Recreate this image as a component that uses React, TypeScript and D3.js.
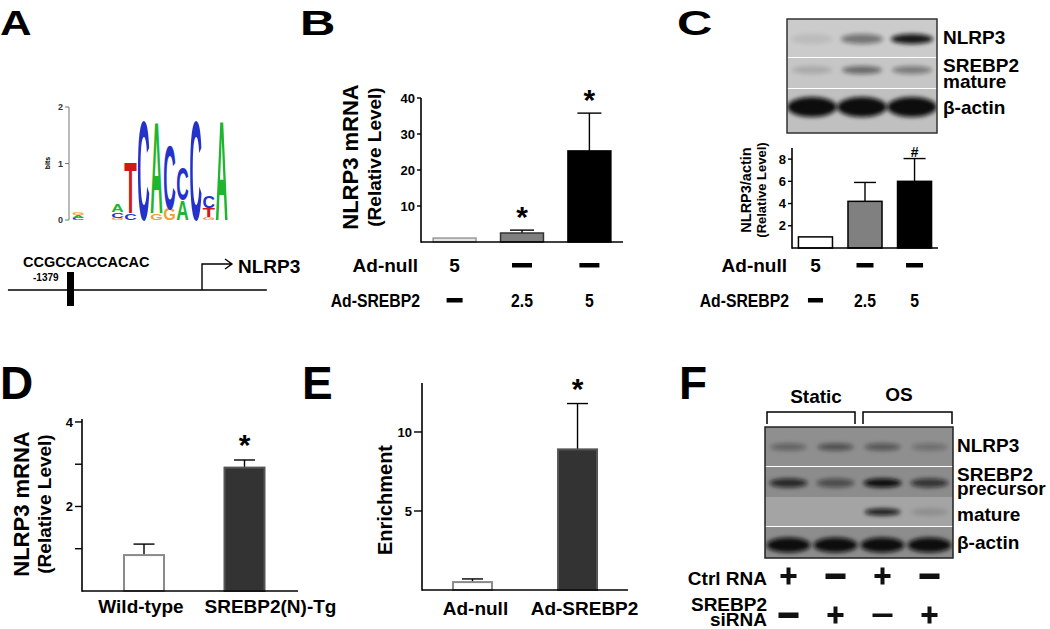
import React from "react";
import * as d3 from "d3";

const FONT = "'Liberation Sans', Arial, Helvetica, sans-serif";

// ---- Panel A: motif logo, each column stacked bottom -> top [letter, bits]
const logoColumns: [string, number][][] = [
  [["C", 0.04], ["A", 0.04], ["G", 0.05]],
  [],
  [],
  [["G", 0.04], ["C", 0.1], ["A", 0.14]],
  [["C", 0.12], ["T", 0.92]],
  [["C", 1.8]],
  [["G", 0.12], ["A", 1.65]],
  [["G", 0.2], ["C", 1.15]],
  [["A", 0.35], ["C", 0.58]],
  [["C", 1.8]],
  [["G", 0.05], ["T", 0.16], ["C", 0.2]],
  [["A", 1.8]],
];
const logoTicks = [0, 1, 2];
const promoterSeq = "CCGCCACCACAC";
const sitePosition = -1379;
const regionStart = -2035;
const regionEnd = 680;

// ---- Panel B: NLRP3 mRNA
const bGroups = ["null-5", "srebp-2.5", "srebp-5"];
const bMeans = [1.1, 2.5, 25.3];
const bUpper = [1.1, 3.3, 35.8];
const bSig = ["", "*", "*"];
const bTicks = [10, 20, 30, 40];
const bAdNull = ["5", "-", "-"];
const bAdSrebp2 = ["-", "2.5", "5"];

// ---- Panel C: western blot + NLRP3/actin
const cGroups = ["null-5", "srebp-2.5", "srebp-5"];
const cMeans = [1.0, 4.2, 6.0];
const cUpper = [1.0, 5.9, 8.05];
const cSig = ["", "", "#"];
const cTicks = [2, 4, 6, 8];
const cAdNull = ["5", "-", "-"];
const cAdSrebp2 = ["-", "2.5", "5"];
const cBlotNlrp3 = [0.08, 0.45, 0.95];
const cBlotSrebp2 = [0.15, 0.5, 0.4];
const cBlotActin = [1, 1, 1];

// ---- Panel D: transgenic mice
const dGroups = ["Wild-type", "SREBP2(N)-Tg"];
const dMeans = [0.85, 2.92];
const dUpper = [1.11, 3.1];
const dSig = ["", "*"];
const dTicks = [1, 2, 3, 4];
const dTickLabels = ["", "2", "", "4"];

// ---- Panel E: ChIP enrichment
const eGroups = ["Ad-null", "Ad-SREBP2"];
const eMeans = [0.5, 8.9];
const eUpper = [0.7, 11.8];
const eSig = ["", "*"];
const eTicks = [5, 10];

// ---- Panel F: blot under static / OS
const fLanes = ["s1", "s2", "o1", "o2"];
const fBlotNlrp3 = [0.35, 0.5, 0.45, 0.25];
const fBlotPrecursor = [0.8, 0.5, 1.0, 0.7];
const fBlotMature = [0, 0, 0.9, 0.15];
const fBlotActin = [1, 1, 1, 1];
const fCtrlRna = ["+", "-", "+", "-"];
const fSirna = ["-", "+", "-", "+"];

const letterColor: Record<string, string> = { A: "#20b52e", C: "#2432c9", G: "#f2a035", T: "#cf1a1a" };
const letterAdv: Record<string, number> = { A: 0.722, C: 0.722, G: 0.778, T: 0.611 };

const PanelLetter = ({ t, x, y, size, sx }: any) => (
  <text transform={`translate(${x},${y}) scale(${sx},1)`} fontSize={size} fontWeight="bold">{t}</text>
);

const YLabel = ({ x, y, size, t }: any) => (
  <text transform={`translate(${x},${y}) rotate(-90)`} textAnchor="middle" fontSize={size} fontWeight="bold">{t}</text>
);

const Bars = ({ xs, ys, keys, means, upper, fills, strokes, sw, capW, sig, sigSize, sigOff }: any) => (
  <g>
    {keys.map((k: string, i: number) => {
      const x0 = xs(k), bw = xs.bandwidth(), cx = x0 + bw / 2;
      return (
        <g key={k}>
          {upper[i] > means[i] && (
            <g stroke="#000" strokeWidth={1.4}>
              <line x1={cx} x2={cx} y1={ys(means[i])} y2={ys(upper[i])} />
              <line x1={cx - capW / 2} x2={cx + capW / 2} y1={ys(upper[i])} y2={ys(upper[i])} />
            </g>
          )}
          <rect x={x0} y={ys(means[i])} width={bw} height={ys(0) - ys(means[i])} fill={fills[i]} stroke={strokes[i]} strokeWidth={sw} />
          {sig[i] && (
            <text x={cx} y={ys(upper[i]) + sigOff} textAnchor="middle" fontSize={sigSize} fontWeight="bold">{sig[i]}</text>
          )}
        </g>
      );
    })}
  </g>
);

const Axes = ({ xs, ys, x1, ticks, labels, tickLen, fs }: any) => {
  const [r0] = xs.range();
  const [d0, d1] = ys.domain();
  return (
    <g>
      <line x1={r0} x2={x1} y1={ys(d0)} y2={ys(d0)} stroke="#000" strokeWidth={1.6} />
      <line x1={r0} x2={r0} y1={ys(d0) + 0.8} y2={ys(d1)} stroke="#000" strokeWidth={1.6} />
      {ticks.map((t: number, i: number) => (
        <g key={t}>
          <line x1={r0 - tickLen} x2={r0} y1={ys(t)} y2={ys(t)} stroke="#000" strokeWidth={1.4} />
          <text x={r0 - tickLen - 2} y={ys(t)} dy="0.36em" textAnchor="end" fontSize={fs} fontWeight="bold">
            {labels ? labels[i] : t}
          </text>
        </g>
      ))}
    </g>
  );
};

// one condition row under a bar chart; sx < 1 squeezes the text like the narrow font of the original
const Row = ({ label, lx, y, xs, keys, vals, dashW, fs, sx = 1 }: any) => (
  <g fontSize={fs} fontWeight="bold">
    <text transform={`translate(${lx},${y}) scale(${sx},1)`} textAnchor="end">{label}</text>
    {keys.map((k: string, i: number) => {
      const cx = xs(k) + xs.bandwidth() / 2;
      return vals[i] === "-" ? (
        <rect key={k} x={cx - dashW / 2} y={y - 9} width={dashW} height={4.5} fill="#000" />
      ) : (
        <text key={k} transform={`translate(${cx},${y}) scale(${sx},1)`} textAnchor="middle">{vals[i]}</text>
      );
    })}
  </g>
);

const Sign = ({ cx, cy, s, thin }: any) =>
  s === "+" ? (
    <g fill="#111">
      <rect x={cx - 8} y={cy - 2} width={16} height={4} />
      <rect x={cx - 2} y={cy - 8.5} width={4} height={17} />
    </g>
  ) : (
    <rect x={cx - 10} y={cy - (thin ? 1.5 : 2.5)} width={20} height={thin ? 3.5 : 5.5} fill="#111" />
  );

const Blot = ({ x, y, w, lanes, strips, border }: any) => {
  const ls = d3.scaleBand().domain(lanes).range([x, x + w]);
  let yy = y;
  const items = strips.map((s: any, si: number) => {
    const top = yy;
    yy += s.h;
    return (
      <g key={si}>
        <rect x={x} y={top} width={w} height={s.h} fill={s.bg} />
        {lanes.map((l: string, i: number) =>
          s.bands[i] > 0 ? (
            <ellipse key={l} cx={(ls(l) as number) + ls.bandwidth() / 2} cy={top + s.cy} rx={s.rx} ry={s.ry}
              fill="#0b0b0b" opacity={s.bands[i]} filter="url(#blur)" />
          ) : null
        )}
        {s.sep && <line x1={x} x2={x + w} y1={top + s.h} y2={top + s.h} stroke="#fff" strokeWidth={2} />}
      </g>
    );
  });
  return (
    <g>
      <clipPath id={`clip${x}`}><rect x={x} y={y} width={w} height={yy - y} /></clipPath>
      <g clipPath={`url(#clip${x})`}>{items}</g>
      <rect x={x} y={y} width={w} height={yy - y} fill="none" stroke={border} strokeWidth={1.5} />
    </g>
  );
};

export default function App() {
  // Panel A scales
  const logoX = d3.scaleBand<number>().domain(d3.range(logoColumns.length)).range([72, 228]).paddingInner(0.04);
  const logoY = d3.scaleLinear().domain([0, 2]).range([220, 107]);
  const gene = d3.scaleLinear().domain([sitePosition, 0]).range([70.5, 202]);

  // Panel B scales
  const bx = d3.scaleBand().domain(bGroups).range([421, 623]).paddingInner(0.363).paddingOuter(0.18);
  const by = d3.scaleLinear().domain([0, 40]).range([242, 98]);

  // Panel C scales
  const cx = d3.scaleBand().domain(cGroups).range([792, 938]).paddingInner(0.313).paddingOuter(0.13);
  const cy = d3.scaleLinear().domain([0, 9]).range([248, 148]);

  // Panel D scales
  const dx = d3.scaleBand().domain(dGroups).range([82, 306.5]).paddingInner(0.602).paddingOuter(0.418);
  const dy = d3.scaleLinear().domain([0, 4.07]).range([591, 419]);

  // Panel E scales
  const ex = d3.scaleBand().domain(eGroups).range([422, 628]).paddingInner(0.629).paddingOuter(0.295);
  const ey = d3.scaleLinear().domain([0, 13.1]).range([590, 383]);

  const fLane = d3.scaleBand().domain(fLanes).range([765, 953]);

  return (
    <svg width={1050} height={629} style={{ position: "absolute", left: 0, top: 0, background: "#fff" }} fontFamily={FONT}>
      <defs>
        <filter id="blur" x="-50%" y="-100%" width="200%" height="300%">
          <feGaussianBlur stdDeviation="2.2" />
        </filter>
      </defs>

      {/* ---------- A ---------- */}
      <PanelLetter t="A" x={0} y={35} size={35} sx={1.25} />
      <g>
        <line x1={69} x2={69} y1={logoY(2)} y2={logoY(0)} stroke="#777" strokeWidth={1} />
        {logoTicks.map((t) => (
          <g key={t}>
            <line x1={65} x2={69} y1={logoY(t)} y2={logoY(t)} stroke="#777" strokeWidth={1} />
            <text x={63} y={logoY(t)} dy="0.35em" textAnchor="end" fontSize={9} fontWeight="bold" fill="#333">{t}</text>
          </g>
        ))}
        <YLabel x={50} y={163} size={7} t="bits" />
        {logoColumns.map((col, ci) => {
          let acc = 0;
          const x0 = logoX(ci) as number;
          const w = logoX.bandwidth();
          return col.map(([L, bits], li) => {
            const yb = logoY(acc);
            acc += bits;
            const h = yb - logoY(acc);
            const sx = w / (letterAdv[L] * 100);
            const sy = h / 72;
            return (
              <text key={`${ci}-${li}`} transform={`translate(${x0},${yb}) scale(${sx},${sy})`} fontSize={100}
                fontWeight="bold" fill={letterColor[L]}>{L}</text>
            );
          });
        })}
        <line x1={gene(regionStart)} x2={gene(regionEnd)} y1={290} y2={290} stroke="#000" strokeWidth={1.5} />
        <rect x={gene(sitePosition) - 3.5} y={272} width={7} height={34} fill="#000" />
        <path d={`M${gene(0)},290 V264 H${gene(0) + 29} M${gene(0) + 23},259 L${gene(0) + 30},264 L${gene(0) + 23},269`}
          fill="none" stroke="#000" strokeWidth={1.4} />
        <text x={23} y={267} fontSize={14.5} fontWeight="bold">{promoterSeq}</text>
        <text x={33} y={281} fontSize={10} fontWeight="bold">{sitePosition}</text>
        <text x={gene(0) + 36} y={273} fontSize={19} fontWeight="bold">NLRP3</text>
      </g>

      {/* ---------- B ---------- */}
      <PanelLetter t="B" x={300} y={35} size={35} sx={1.4} />
      <YLabel x={358} y={157} size={22} t="NLRP3 mRNA" />
      <YLabel x={381} y={157} size={19} t="(Relative Level)" />
      <Bars xs={bx} ys={by} keys={bGroups} means={bMeans} upper={bUpper}
        fills={["#e4e4e4", "#808080", "#000"]} strokes={["#999", "#333", "#000"]} sw={1.5} capW={24}
        sig={bSig} sigSize={30} sigOff={-3} />
      <Axes xs={bx} ys={by} x1={623} ticks={bTicks} tickLen={4} fs={13} />
      <Row label="Ad-null" lx={418} y={272} xs={bx} keys={bGroups} vals={bAdNull} dashW={20} fs={19} />
      <Row label="Ad-SREBP2" lx={420} y={307} xs={bx} keys={bGroups} vals={bAdSrebp2} dashW={16} fs={19} sx={0.83} />

      {/* ---------- C ---------- */}
      <PanelLetter t="C" x={677} y={35} size={35} sx={1.4} />
      <Blot x={787} y={19} w={150} lanes={cGroups} border="#333" strips={[
        { h: 39, bg: "#cbcbcb", bands: cBlotNlrp3, cy: 20, rx: 21, ry: 5, sep: true },
        { h: 31, bg: "#c6c6c6", bands: cBlotSrebp2, cy: 12, rx: 20, ry: 4, sep: true },
        { h: 44, bg: "#c0c0c0", bands: cBlotActin, cy: 18, rx: 25, ry: 10 },
      ]} />
      <g fontSize={19} fontWeight="bold">
        <text x={943} y={44}>NLRP3</text>
        <text x={943} y={72}>SREBP2</text>
        <text x={943} y={88}>mature</text>
        <text x={943} y={114}>β-actin</text>
      </g>
      <YLabel x={751} y={190} size={14.5} t="NLRP3/actin" />
      <YLabel x={766} y={190} size={13} t="(Relative Level)" />
      <Bars xs={cx} ys={cy} keys={cGroups} means={cMeans} upper={cUpper}
        fills={["#fff", "#808080", "#000"]} strokes={["#000", "#000", "#000"]} sw={1.5} capW={22}
        sig={cSig} sigSize={14} sigOff={-2} />
      <Axes xs={cx} ys={cy} x1={938} ticks={cTicks} tickLen={4} fs={13} />
      <Row label="Ad-null" lx={787} y={272} xs={cx} keys={cGroups} vals={cAdNull} dashW={17} fs={19} />
      <Row label="Ad-SREBP2" lx={789} y={307} xs={cx} keys={cGroups} vals={cAdSrebp2} dashW={15} fs={19} sx={0.83} />

      {/* ---------- D ---------- */}
      <PanelLetter t="D" x={0} y={399} size={46} sx={1} />
      <YLabel x={29} y={504} size={22} t="NLRP3 mRNA" />
      <YLabel x={51} y={504} size={19} t="(Relative Level)" />
      <Bars xs={dx} ys={dy} keys={dGroups} means={dMeans} upper={dUpper}
        fills={["#fff", "#333"]} strokes={["#8a8a8a", "#555"]} sw={2} capW={21}
        sig={dSig} sigSize={30} sigOff={-5} />
      <Axes xs={dx} ys={dy} x1={298} ticks={dTicks} labels={dTickLabels} tickLen={7} fs={13} />
      <g fontSize={19} fontWeight="bold" textAnchor="middle">
        {dGroups.map((g, i) => (
          <text key={g} x={(dx(g) as number) + dx.bandwidth() / 2 + (i === 0 ? -3 : 26)} y={613}>{g}</text>
        ))}
      </g>

      {/* ---------- E ---------- */}
      <PanelLetter t="E" x={302} y={399} size={46} sx={1} />
      <YLabel x={392} y={500} size={20} t="Enrichment" />
      <Bars xs={ex} ys={ey} keys={eGroups} means={eMeans} upper={eUpper}
        fills={["#fff", "#333"]} strokes={["#8a8a8a", "#555"]} sw={2} capW={21}
        sig={eSig} sigSize={30} sigOff={-5} />
      <Axes xs={ex} ys={ey} x1={628} ticks={eTicks} tickLen={8} fs={13} />
      <g fontSize={19} fontWeight="bold" textAnchor="middle">
        {eGroups.map((g, i) => (
          <text key={g} x={(ex(g) as number) + ex.bandwidth() / 2 + (i === 0 ? 3 : 7)} y={615}>{g}</text>
        ))}
      </g>

      {/* ---------- F ---------- */}
      <PanelLetter t="F" x={679} y={399} size={46} sx={1} />
      <g fontSize={19} fontWeight="bold" textAnchor="middle">
        <text x={816} y={403}>Static</text>
        <text x={899} y={401}>OS</text>
      </g>
      <path d="M767,424 V412 H855 V424 M863,424 V412 H952 V424" fill="none" stroke="#000" strokeWidth={1.5} />
      <Blot x={765} y={427} w={188} lanes={fLanes} border="#222" strips={[
        { h: 40, bg: "#8f8f8f", bands: fBlotNlrp3, cy: 20, rx: 18, ry: 3.5, sep: true },
        { h: 30, bg: "#8c8c8c", bands: fBlotPrecursor, cy: 16, rx: 19, ry: 4.5 },
        { h: 30, bg: "#a4a4a4", bands: fBlotMature, cy: 15, rx: 18, ry: 3.5, sep: true },
        { h: 31, bg: "#8d8d8d", bands: fBlotActin, cy: 18, rx: 22, ry: 7.5 },
      ]} />
      <g fontSize={19} fontWeight="bold">
        <text x={957} y={452}>NLRP3</text>
        <text x={957} y={481}>SREBP2</text>
        <text x={957} y={495}>precursor</text>
        <text x={957} y={521}>mature</text>
        <text x={957} y={549}>β-actin</text>
      </g>
      <g fontSize={19} fontWeight="bold" textAnchor="end">
        <text x={767} y={585}>Ctrl RNA</text>
        <text x={767} y={611}>SREBP2</text>
        <text x={767} y={626}>siRNA</text>
      </g>
      {fLanes.map((l, i) => {
        const c = (fLane(l) as number) + fLane.bandwidth() / 2;
        return (
          <g key={l}>
            <Sign cx={c} cy={576} s={fCtrlRna[i]} />
            <Sign cx={c} cy={615} s={fSirna[i]} thin={i === 2} />
          </g>
        );
      })}
    </svg>
  );
}
